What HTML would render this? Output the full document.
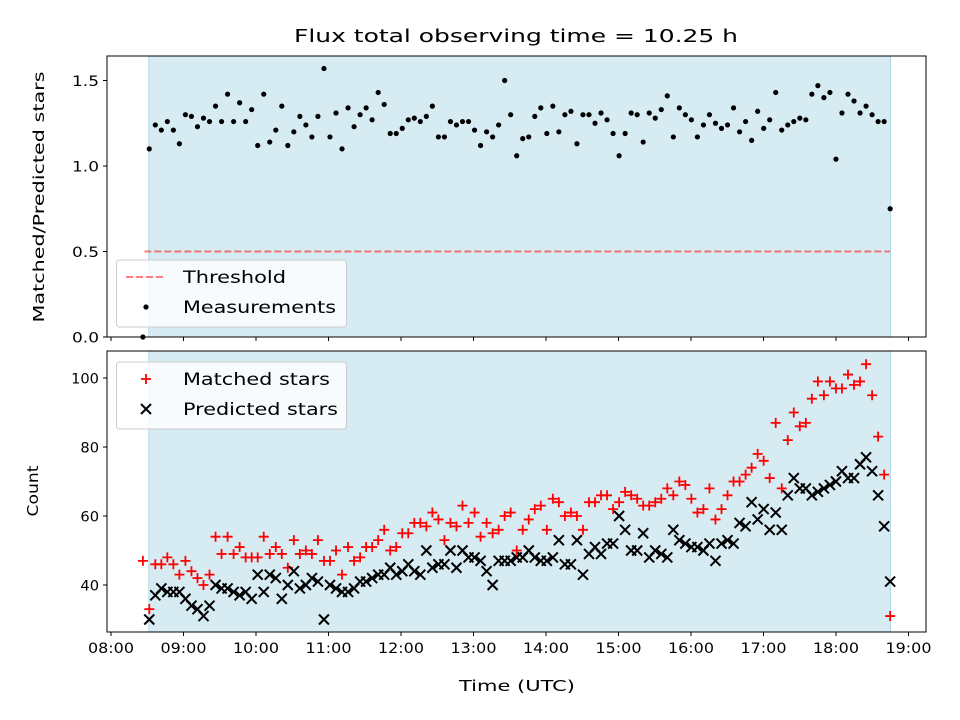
<!DOCTYPE html>
<html><head><meta charset="utf-8"><style>
html,body{margin:0;padding:0;background:#fff;}
svg{display:block;font-family:"DejaVu Sans","Liberation Sans",sans-serif;}
</style></head><body>
<svg id="chart" width="960" height="720" viewBox="0 0 960 720" xmlns="http://www.w3.org/2000/svg"></svg>
<script>
const tStart = 8.528, tEnd = 18.747;
const extraTime = [8.44];
const extraRatio = [0];
const extraMatched = [47];
const ratios = [1.10,1.24,1.21,1.26,1.21,1.13,1.30,1.29,1.23,1.28,1.26,1.35,1.26,1.42,1.26,1.37,1.26,1.33,1.12,1.42,1.14,1.21,1.35,1.12,1.20,1.29,1.24,1.17,1.29,1.57,1.17,1.31,1.10,1.34,1.23,1.30,1.34,1.27,1.43,1.36,1.19,1.19,
1.22,1.27,1.28,1.26,1.29,1.35,1.17,1.17,1.26,1.24,1.26,1.26,1.21,1.12,1.20,1.17,1.24,1.50,1.30,1.06,1.16,1.17,1.29,1.34,1.19,1.35,1.20,1.30,1.32,1.13,1.30,1.30,1.25,1.31,1.27,1.19,1.06,1.19,1.31,1.30,1.14,1.31,1.28,1.33,
1.41,1.17,1.34,1.30,1.27,1.17,1.24,1.30,1.25,1.22,1.24,1.34,1.20,1.26,1.15,1.32,1.22,1.27,1.43,1.21,1.24,1.26,1.28,1.27,1.42,1.47,1.40,1.43,1.04,1.31,1.42,1.38,1.31,1.35,1.30,1.26,1.26,0.75];
const matched = [33,46,46,48,46,43,47,44,42,40,43,54,49,54,49,51,48,48,48,54,49,51,49,45,53,49,50,49,53,47,47,
50,43,51,47,48,51,51,53,56,50,51,55,55,58,58,57,61,59,53,58,57,63,58,61,54,58,55,56,60,61,50,56,
59,62,63,56,65,64,60,61,60,56,64,64,66,66,62,64,67,66,65,63,63,64,65,68,66,70,69,65,61,62,
68,59,62,66,70,70,72,74,78,76,71,87,68,82,90,86,87,94,99,95,99,97,97,101,98,99,104,95,83,72,31];
const predicted = [30,37,39,38,38,38,36,34,33,31,34,40,39,39,38,37,38,36,43,38,43,42,36,40,44,39,40,42,41,30,40,
39,38,38,39,41,41,42,43,43,45,43,44,46,44,43,50,45,46,46,50,45,50,48,48,47,44,40,47,47,47,48,
48,50,48,47,47,48,53,46,46,53,43,49,51,49,52,52,60,56,50,50,55,48,50,49,48,56,53,52,51,51,50,52,
47,52,53,52,58,57,64,59,62,56,61,56,66,71,68,68,66,67,68,69,70,73,71,71,75,77,73,66,57,41];
const xTicks = ["08:00","09:00","10:00","11:00","12:00","13:00","14:00","15:00","16:00","17:00","18:00","19:00"];
const yTopTicks = ["0.0","0.5","1.0","1.5"];
const yBotTicks = ["40","60","80","100"];
const threshold = 0.5;

const NS = "http://www.w3.org/2000/svg";
const svg = document.getElementById('chart');
function mk(tag, attrs, parent){const e=document.createElementNS(NS,tag);for(const k in attrs)e.setAttribute(k,attrs[k]);(parent||svg).appendChild(e);return e;}
const L=107,R=926, T1=56,B1=337, T2=351,B2=632;
const x = t => 111 + (t-8)*72.5;
const yTop = v => 337 - v*171;
const yBot = v => 585 - (v-40)*3.45;
const times = ratios.map((_,i)=> tStart + i*(tEnd-tStart)/(ratios.length-1));

let e=mk('text',{x:516,y:42,'text-anchor':'middle','font-size':18,textLength:444,lengthAdjust:'spacingAndGlyphs'});e.textContent='Flux total observing time = 10.25 h';



function panel(top,bot,name){
  const g=mk('g',{});
  
  
  const s=mk('rect',{x:x(tStart)-0.5,y:top,width:x(tEnd+0.003)-x(tStart)+0.5,height:bot-top,fill:'#add8e6','fill-opacity':0.5,stroke:'#add8e6','stroke-width':1},g);
  
  
  return g;
}
function frame(top,bot,name){
  const f=mk('rect',{x:L,y:top,width:R-L,height:bot-top,fill:'none',stroke:'#000','stroke-width':1});
  
  
}
const gt=panel(T1,B1,'ratio-panel');
const th=mk('line',{x1:x(8.46),x2:x(tEnd),y1:yTop(threshold),y2:yTop(threshold),stroke:'red','stroke-opacity':0.5,'stroke-width':2,'stroke-dasharray':'7,3'},gt);


const allT=extraTime.concat(times), allR=extraRatio.concat(ratios);
allR.forEach((v,i)=>{const c=mk('circle',{cx:x(allT[i]),cy:yTop(v),r:2.6,fill:'#000'},gt);

});
frame(T1,B1,'ratio-axes-frame');

const gb=panel(T2,B2,'count-panel');
function plus(cx,cy,g){return mk('path',{d:`M${cx-5},${cy}H${cx+5}M${cx},${cy-5}V${cy+5}`,stroke:'red','stroke-width':1.8,fill:'none'},g);}
function cross(cx,cy,g){return mk('path',{d:`M${cx-5},${cy-5}L${cx+5},${cy+5}M${cx-5},${cy+5}L${cx+5},${cy-5}`,stroke:'#000','stroke-width':2,fill:'none'},g);}
const allM=extraMatched.concat(matched);
allM.forEach((v,i)=>{const p=plus(x(allT[i]),yBot(v),gb);

});
predicted.forEach((v,i)=>{const p=cross(x(times[i]),yBot(v),gb);

});
frame(T2,B2,'count-axes-frame');

xTicks.forEach((lab,i)=>{const xx=x(8+i);
  mk('line',{x1:xx,x2:xx,y1:B1,y2:B1+4,stroke:'#000'});
  mk('line',{x1:xx,x2:xx,y1:B2,y2:B2+4,stroke:'#000'});
  const t=mk('text',{x:xx,y:B2+21,'text-anchor':'middle','font-size':14.5,textLength:46,lengthAdjust:'spacingAndGlyphs'});t.textContent=lab;
  
  });
yTopTicks.forEach(lab=>{const yy=yTop(parseFloat(lab));
  mk('line',{x1:L-4,x2:L,y1:yy,y2:yy,stroke:'#000'});
  const t=mk('text',{x:L-8,y:yy+5.5,'text-anchor':'end','font-size':14.5,textLength:27,lengthAdjust:'spacingAndGlyphs'});t.textContent=lab;
  
  });
yBotTicks.forEach(lab=>{const yy=yBot(parseFloat(lab));
  mk('line',{x1:L-4,x2:L,y1:yy,y2:yy,stroke:'#000'});
  const t=mk('text',{x:L-8,y:yy+5.5,'text-anchor':'end','font-size':14.5,textLength:lab.length*9.3,lengthAdjust:'spacingAndGlyphs'});t.textContent=lab;
  
  });
e=mk('text',{x:517,y:691,'text-anchor':'middle','font-size':15.5,textLength:116,lengthAdjust:'spacingAndGlyphs'});e.textContent='Time (UTC)';


e=mk('text',{x:0,y:0,'text-anchor':'middle','font-size':15.5,textLength:251,lengthAdjust:'spacingAndGlyphs',transform:'translate(44,197) rotate(-90)'});e.textContent='Matched/Predicted stars';


e=mk('text',{x:0,y:0,'text-anchor':'middle','font-size':15.5,textLength:51,lengthAdjust:'spacingAndGlyphs',transform:'translate(38,491) rotate(-90)'});e.textContent='Count';



function legend(y0,items,name){
  const g=mk('g',{});
  
  
  mk('rect',{x:116.5,y:y0,width:230,height:67,rx:3,fill:'#fff','fill-opacity':0.8,stroke:'#ccc'},g);
  items.forEach((it,i)=>{const yy=y0+17+i*30;
    const ent=mk('g',{},g);
    
    
    if(it.k==='dash')mk('line',{x1:126,x2:166,y1:yy,y2:yy,stroke:'red','stroke-opacity':0.5,'stroke-width':2,'stroke-dasharray':'7,3'},ent);
    if(it.k==='dot')mk('circle',{cx:146,cy:yy,r:2.6,fill:'#000'},ent);
    if(it.k==='plus')plus(146,yy,ent);
    if(it.k==='cross')cross(146,yy,ent);
    const t=mk('text',{x:183,y:yy+6,'font-size':17,textLength:it.w,lengthAdjust:'spacingAndGlyphs'},ent);t.textContent=it.l;});
}
legend(260,[{k:'dash',l:'Threshold',w:103},{k:'dot',l:'Measurements',w:153}],'legend-top');
legend(362,[{k:'plus',l:'Matched stars',w:147},{k:'cross',l:'Predicted stars',w:155}],'legend-bottom');
</script>
</body></html>
